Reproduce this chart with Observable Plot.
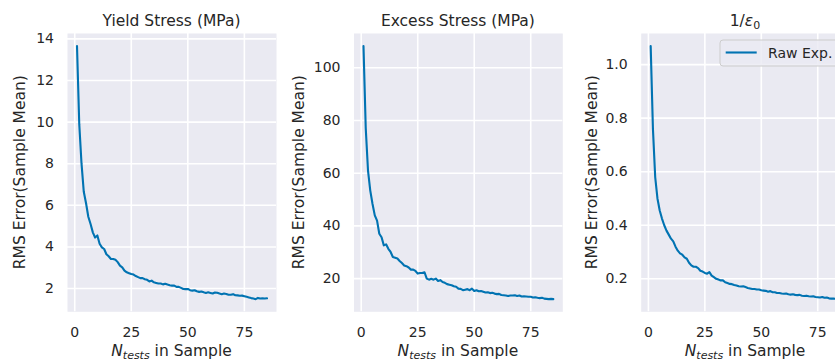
<!DOCTYPE html>
<html><head><meta charset="utf-8">
<script src="https://cdn.jsdelivr.net/npm/d3@7"></script>
<script src="https://cdn.jsdelivr.net/npm/@observablehq/plot@0.6"></script>
<style>
html,body{margin:0;padding:0;overflow:hidden;background:#fff;}
#wrap{position:relative;width:835px;height:361px;overflow:hidden;font-family:"DejaVu Sans",sans-serif;}
.panel{position:absolute;top:0;}
.panel svg{max-width:none !important;}
</style></head><body><div id="wrap"></div>
<script>
// ---- data ----
const nTests = [1,2,3,4,5,6,7,8,9,10,11,12,13,14,15,16,17,18,19,20,21,22,23,24,25,26,27,28,29,30,31,32,33,34,35,36,37,38,39,40,41,42,43,44,45,46,47,48,49,50,51,52,53,54,55,56,57,58,59,60,61,62,63,64,65,66,67,68,69,70,71,72,73,74,75,76,77,78,79,80,81,82,83,84,85];
const yieldStress = [13.65,9.9,8.0,6.65,6.1,5.45,5.1,4.7,4.45,4.55,4.15,3.98,3.9,3.65,3.55,3.42,3.42,3.38,3.27,3.1,3.02,2.86,2.78,2.74,2.7,2.67,2.6,2.55,2.5,2.5,2.45,2.42,2.34,2.38,2.3,2.27,2.24,2.24,2.2,2.23,2.19,2.16,2.14,2.14,2.08,2.08,2.03,1.98,1.97,1.98,1.92,1.9,1.92,1.87,1.84,1.86,1.82,1.79,1.82,1.79,1.76,1.81,1.8,1.76,1.73,1.76,1.74,1.7,1.7,1.73,1.68,1.67,1.65,1.66,1.63,1.6,1.57,1.54,1.52,1.49,1.55,1.52,1.53,1.52,1.53];
const excessStress = [108.2,77,61,53.4,48.3,44,42,37,35.7,32.6,33,31.3,30.1,28.2,27.9,27.6,26.7,25.9,25,24.7,24.2,23.4,23.4,22.9,21.9,22.1,22.1,22.4,20,19.6,19.9,19.6,20,19.1,19.4,18.7,18.4,17.9,17.7,17.5,17.1,16.9,16.2,16.1,15.6,15.8,16,15.6,16.2,15.3,15.6,15.2,15.3,15,14.7,14.8,14.5,14.6,14.3,14.1,14.2,13.8,13.7,13.6,13.4,13.6,13.6,13.7,13.4,13.6,13.2,13.3,13.2,13.1,13.1,12.8,12.9,12.7,12.6,12.7,12.4,12.3,12.2,12.3,12.2];
const invEps0 = [1.069,0.76,0.58,0.50,0.455,0.425,0.40,0.38,0.365,0.35,0.34,0.32,0.305,0.295,0.29,0.28,0.275,0.26,0.25,0.245,0.245,0.24,0.23,0.227,0.222,0.219,0.225,0.212,0.206,0.2,0.197,0.194,0.194,0.187,0.184,0.181,0.18,0.177,0.175,0.172,0.171,0.172,0.169,0.166,0.164,0.162,0.162,0.16,0.16,0.157,0.156,0.155,0.152,0.154,0.15,0.15,0.147,0.147,0.145,0.144,0.145,0.142,0.141,0.142,0.14,0.139,0.14,0.137,0.136,0.137,0.135,0.134,0.135,0.132,0.131,0.13,0.132,0.129,0.13,0.127,0.126,0.126,0.125,0.124,0.125];
const xTicks = [0,25,50,75];
const yieldTicks = [2,4,6,8,10,12,14];
const excessTicks = [20,40,60,80,100];
const epsTicks = [0.2,0.4,0.6,0.8,1.0];
const seriesName = "Raw Exp.";
const yLabel = "RMS Error(Sample Mean)";

const BG = "#EAEAF2", LINE = "#0173B2", TXT = "#262626";
const FONT = "DejaVu Sans";

function pad(ext){ const r = ext[1]-ext[0]; return [ext[0]-0.05*r, ext[1]+0.05*r]; }
const xDomain = pad(d3.extent(nTests));

const panels = [
  {title:"Yield Stress (MPa)", values:yieldStress, ticks:yieldTicks, fmt:d3.format("d"), left:0, width:286, ml:67, mr:10, labelX:20},
  {title:"Excess Stress (MPa)", values:excessStress, ticks:excessTicks, fmt:d3.format("d"), left:280, width:290, ml:73.5, mr:7.7, labelX:18.5},
  {title:null, values:invEps0, ticks:epsTicks, fmt:d3.format(".1f"), left:560, width:300, ml:80.7, mr:10.7, labelX:31.5, legend:true}
];

const wrap = document.getElementById("wrap");
const H = 361, MT = 33, MB = 361-311.3;

panels.forEach((p, i) => {
  const data = nTests.map((n, j) => ({n, v: p.values[j]}));
  const svg = Plot.plot({
    width: p.width, height: H,
    marginLeft: p.ml, marginRight: p.mr, marginTop: MT, marginBottom: MB,
    style: {fontFamily: FONT, fontSize: "14px", color: TXT, background: "transparent", overflow: "visible", maxWidth: "none"},
    x: {domain: xDomain},
    y: {domain: pad(d3.extent(p.values))},
    marks: [
      Plot.frame({fill: BG, stroke: "none"}),
      Plot.gridX(xTicks, {stroke: "white", strokeOpacity: 1, strokeWidth: 1.6}),
      Plot.gridY(p.ticks, {stroke: "white", strokeOpacity: 1, strokeWidth: 1.6}),
      Plot.line(data, {x: "n", y: "v", stroke: LINE, strokeWidth: 2.1}),
      Plot.axisX(xTicks, {tickSize: 0, tickPadding: 15, label: null, fill: TXT}),
      Plot.axisY(p.ticks, {tickSize: 0, tickPadding: 13.5, tickFormat: p.fmt, label: null, fill: TXT})
    ]
  });
  svg.style.maxWidth = "none";
  svg.setAttribute("width", p.width);
  const div = document.createElement("div");
  div.className = "panel";
  div.style.left = p.left + "px";
  div.style.width = p.width + "px";
  div.appendChild(svg);
  wrap.appendChild(div);

  const s = d3.select(svg);
  const cx = p.ml + (p.width - p.ml - p.mr) / 2;
  // title
  const t = s.append("text").attr("x", cx).attr("y", 25.5).attr("text-anchor", "middle")
    .attr("fill", TXT).style("font-size", "15.5px").style("font-family", FONT);
  if (p.title) t.text(p.title);
  else {
    t.append("tspan").text("1/");
    t.append("tspan").attr("font-style", "italic").text("ε");
    t.append("tspan").attr("font-size", "11px").attr("dy", 3).text("0");
  }
  // x label
  const xl = s.append("text").attr("x", cx).attr("y", 356).attr("text-anchor", "middle")
    .attr("fill", TXT).style("font-size", "15.5px").style("font-family", FONT);
  xl.append("tspan").attr("font-style", "italic").text("N");
  xl.append("tspan").attr("font-style", "italic").attr("font-size", "11px").attr("dy", 3).text("tests");
  xl.append("tspan").attr("dy", -3).text(" in Sample");
  // y label
  const cy = MT + (H - MT - MB) / 2;
  s.append("text").attr("transform", `translate(${p.labelX},${cy}) rotate(-90)`)
    .attr("text-anchor", "middle").attr("dy", "0.35em").attr("fill", TXT)
    .style("font-size", "15.5px").style("font-family", FONT).text(yLabel);
  // legend
  if (p.legend) {
    const g = s.append("g");
    g.append("rect").attr("x", 160).attr("y", 40).attr("width", 130).attr("height", 26).attr("rx", 3)
      .attr("fill", BG).attr("fill-opacity", 0.8).attr("stroke", "#cccccc");
    g.append("line").attr("x1", 165.7).attr("x2", 196.7).attr("y1", 52.5).attr("y2", 52.5)
      .attr("stroke", LINE).attr("stroke-width", 2.1);
    g.append("text").attr("x", 208).attr("y", 58).attr("text-anchor", "start").attr("fill", TXT)
      .style("font-size", "14px").style("font-family", FONT).text(seriesName);
  }
});
</script></body></html>
